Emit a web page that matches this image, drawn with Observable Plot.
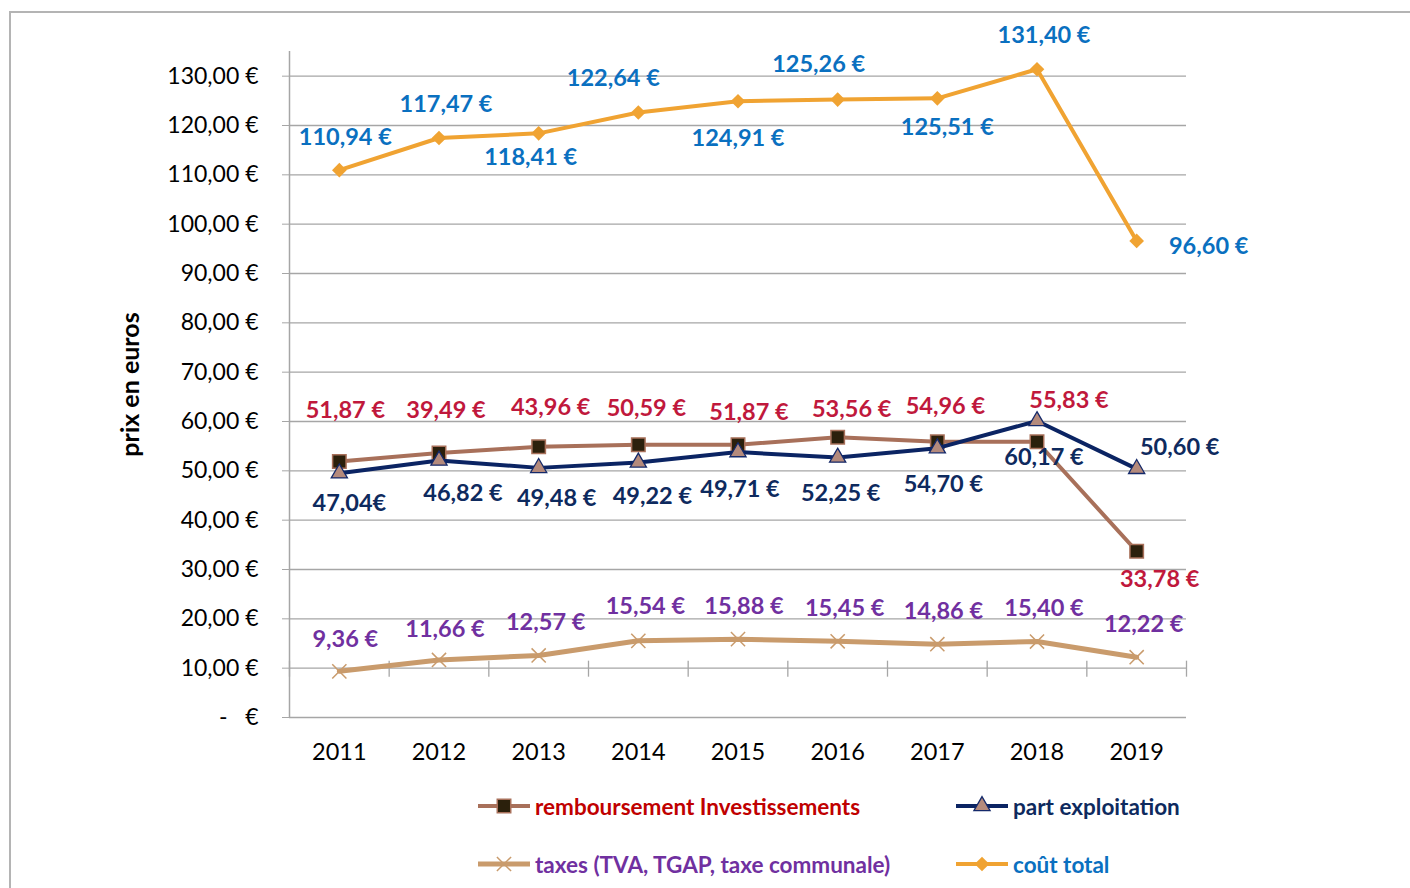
<!DOCTYPE html>
<html><head><meta charset="utf-8">
<script src="https://cdn.jsdelivr.net/npm/d3@7"></script>
<script src="https://cdn.jsdelivr.net/npm/@observablehq/plot@0.6"></script>
<style>
body{margin:0;background:#fff;font-family:Lato,sans-serif;}
#wrap{position:relative;width:1410px;height:888px;overflow:hidden;}
#frame{position:absolute;left:9px;top:11px;width:1500px;height:1000px;border-left:2px solid #b4b4b4;border-top:2px solid #b4b4b4;pointer-events:none;}
.leg{position:absolute;display:flex;align-items:center;font-weight:700;font-size:22.5px;white-space:nowrap;height:30px;}
.leg svg{margin-right:4px;}
</style></head><body><div id="wrap"><div id="chart"></div><div id="legend"></div><div id="frame"></div></div>
<script>
// ---- data ----
const years = [2011, 2012, 2013, 2014, 2015, 2016, 2017, 2018, 2019];
const remboursement = [51.9, 53.6, 54.9, 55.3, 55.3, 56.8, 55.9, 55.9, 33.7];
const remboursementLabels = ["51,87 €", "39,49 €", "43,96 €", "50,59 €", "51,87 €", "53,56 €", "54,96 €", "55,83 €", "33,78 €"];
const exploitation = [49.5, 52.1, 50.6, 51.7, 53.8, 52.7, 54.6, 60.1, 50.4];
const exploitationLabels = ["47,04€", "46,82 €", "49,48 €", "49,22 €", "49,71 €", "52,25 €", "54,70 €", "60,17 €", "50,60 €"];
const taxes = [9.36, 11.66, 12.57, 15.54, 15.88, 15.45, 14.86, 15.40, 12.22];
const taxesLabels = ["9,36 €", "11,66 €", "12,57 €", "15,54 €", "15,88 €", "15,45 €", "14,86 €", "15,40 €", "12,22 €"];
const coutTotal = [110.94, 117.47, 118.41, 122.64, 124.91, 125.26, 125.51, 131.40, 96.60];
const coutTotalLabels = ["110,94 €", "117,47 €", "118,41 €", "122,64 €", "124,91 €", "125,26 €", "125,51 €", "131,40 €", "96,60 €"];
const yTicks = [0, 10, 20, 30, 40, 50, 60, 70, 80, 90, 100, 110, 120, 130];
const seriesNames = ["remboursement Investissements", "part exploitation", "taxes (TVA, TGAP, taxe communale)", "coût total"];
const yTitle = "prix en euros";

// ---- label placement (offsets from each point, px) ----
const remDx = [6, 7, 12, 8, 11, 14, 8, 32, 23], remDy = [-51, -43, -39, -36, -32, -28, -35, -41, 28];
const expDx = [10, 24, 18, 14, 2, 3, 6, 7, 43], expDy = [30, 33, 31, 34, 37, 36, 36, 36, -21];
const taxDx = [6, 6, 7, 7, 6, 7, 6, 7, 7], taxDy = [-32, -31, -33, -34, -33, -33, -33, -33, -33];
const totDx = [6, 7, -8, -25, 0, -19, 10, 7, 72], totDy = [-33, -34, 24, -34, 37, -35, 29, -34, 6];

// ---- styles ----
const styles = [
  {values: remboursement, labels: remboursementLabels, dx: remDx, dy: remDy, line: "#a8705a", lw: 4, symbol: "square", r: 7.6, fill: "#2b200c", mstroke: "#a8705a", msw: 1.5, labelColor: "#c0183c", legendColor: "#c00000"},
  {values: exploitation, labels: exploitationLabels, dx: expDx, dy: expDy, line: "#0b2463", lw: 4, symbol: "triangle", r: 6, fill: "#b48a7c", mstroke: "#14296a", msw: 1.3, labelColor: "#0e2a5e", legendColor: "#0e2a5e"},
  {values: taxes, labels: taxesLabels, dx: taxDx, dy: taxDy, line: "#c99b6c", lw: 5, symbol: "times", r: 6.5, fill: "none", mstroke: "#c99b6c", msw: 1.5, labelColor: "#7030a0", legendColor: "#7030a0"},
  {values: coutTotal, labels: coutTotalLabels, dx: totDx, dy: totDy, line: "#f0a332", lw: 4, symbol: "diamond2", r: 6.6, fill: "#f0a332", mstroke: "none", msw: 0, labelColor: "#0a70c0", legendColor: "#0a70c0"}
];

const grid = "#a6a6a6";
const boundaries = d3.range(years.length + 1).map(i => years[0] - 0.5 + i);
const fmtY = d => d === 0 ? "-\u00a0\u00a0\u00a0€" : d.toFixed(2).replace(".", ",") + " €";

const marks = [
  Plot.gridY(yTicks, {stroke: grid, strokeOpacity: 1, strokeWidth: 1.3}),
  Plot.ruleX([boundaries[0]], {stroke: grid, strokeWidth: 1.5}),
  Plot.ruleX(boundaries, {y1: 10, y2: 10, insetTop: 9, insetBottom: 7, stroke: grid, strokeWidth: 1.3}),
  Plot.axisY({ticks: yTicks, tickSize: 7, tickPadding: 24, tickFormat: fmtY, stroke: grid, fill: "black", label: null, fontSize: 23}),
  Plot.axisX({ticks: years, tickSize: 0, tickPadding: 26, tickFormat: d => String(d), fill: "black", label: null, fontSize: 23.5}),
  Plot.text([yTitle], {frameAnchor: "left", dx: -159, rotate: -90, textAnchor: "middle", fontSize: 25, fontWeight: "bold", fill: "black"})
];
for (const s of styles) {
  const data = years.map((y, i) => ({year: y, value: s.values[i]}));
  marks.push(Plot.line(data, {x: "year", y: "value", stroke: s.line, strokeWidth: s.lw, strokeLinejoin: "round", strokeLinecap: "round"}));
  marks.push(Plot.dot(data, {x: "year", y: "value", symbol: () => s.symbol, r: s.r, fill: s.fill, stroke: s.mstroke, strokeWidth: s.msw}));
}
for (const s of styles) {
  years.forEach((y, i) => {
    marks.push(Plot.text([{year: y, value: s.values[i], label: s.labels[i]}], {
      x: "year", y: "value", text: "label", dx: s.dx[i], dy: s.dy[i],
      fill: s.labelColor, fontSize: 23.5, fontWeight: "bold"
    }));
  });
}

const chart = Plot.plot({
  width: 1410, height: 780,
  marginLeft: 289, marginRight: 224, marginTop: 51, marginBottom: 63,
  x: {type: "linear", domain: [boundaries[0], boundaries[boundaries.length - 1]]},
  y: {domain: [0, 135]},
  style: {fontFamily: "Lato, sans-serif", fontSize: "21px", background: "transparent", color: "black", overflow: "visible"},
  marks
});
document.getElementById("chart").appendChild(chart);

// ---- legend ----
const legendPos = [{left: 477, top: 791}, {left: 955, top: 791}, {left: 477, top: 849}, {left: 955, top: 849}];
const symMap = {square: d3.symbolSquare, triangle: d3.symbolTriangle, times: d3.symbolTimes, diamond2: d3.symbolDiamond2};
const leg = document.getElementById("legend");
styles.forEach((s, i) => {
  const div = document.createElement("div");
  div.className = "leg";
  div.style.left = legendPos[i].left + "px";
  div.style.top = legendPos[i].top + "px";
  div.style.color = s.legendColor;
  const size = s.r * s.r * Math.PI;
  const path = d3.symbol(symMap[s.symbol], size)();
  div.innerHTML = `<svg width="54" height="30"><line x1="1" x2="53" y1="15" y2="15" stroke="${s.line}" stroke-width="${s.lw}"/><path transform="translate(27,15)" d="${path}" fill="${s.fill}" stroke="${s.mstroke}" stroke-width="${s.msw}"/></svg><span></span>`;
  div.querySelector("span").textContent = seriesNames[i];
  leg.appendChild(div);
});
</script></body></html>
